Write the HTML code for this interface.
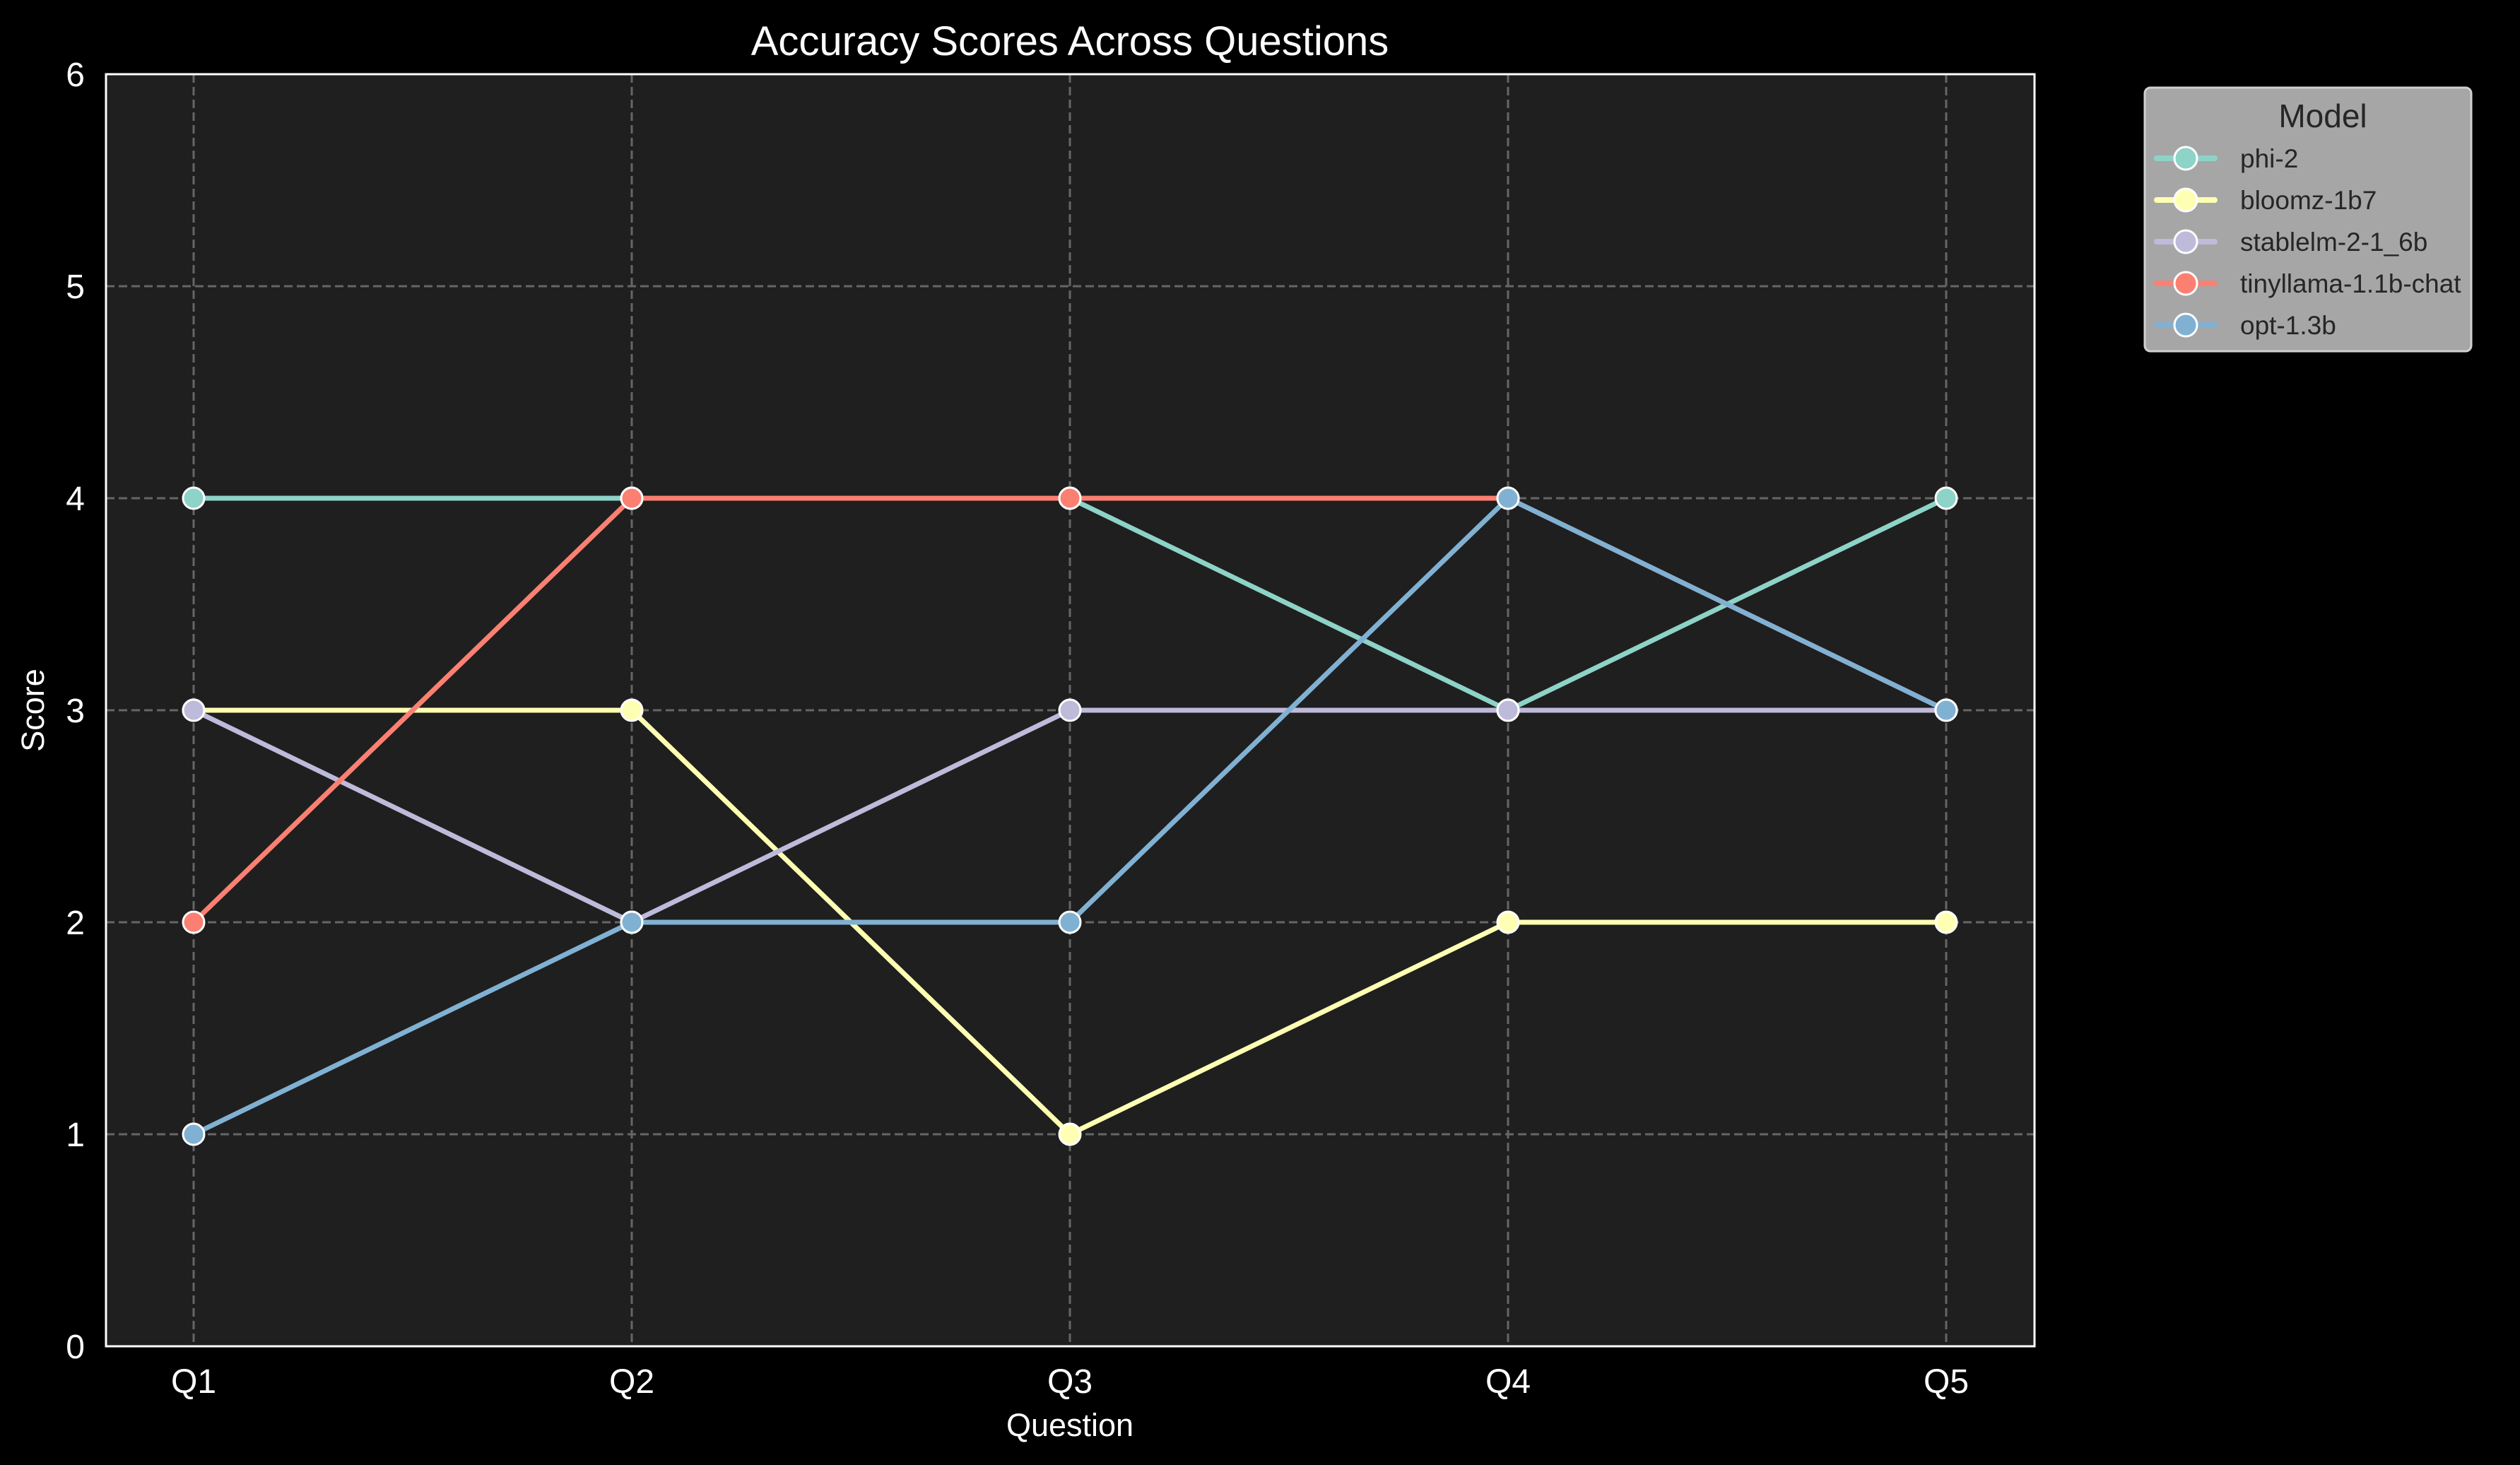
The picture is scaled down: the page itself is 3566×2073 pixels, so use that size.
<!DOCTYPE html>
<html><head><meta charset="utf-8"><style>
html,body{margin:0;padding:0;background:#000;}
svg{display:block;font-family:"Liberation Sans",sans-serif;}
</style></head><body>
<svg id="chart" width="3566" height="2073" viewBox="0 0 3566 2073">
<rect width="3566" height="2073" fill="#000"/>
<rect x="150" y="105" width="2729" height="1800" fill="#1f1f1f"/>
<g id="grid"></g>
<g id="series"></g>
<rect x="150" y="105" width="2729" height="1800" fill="none" stroke="#fff" stroke-width="3"/>
<g id="ticks"></g>
<text x="1514" y="78" font-size="58" fill="#fff" text-anchor="middle">Accuracy Scores Across Questions</text>
<text x="1514" y="2032" font-size="45" fill="#fff" text-anchor="middle">Question</text>
<text x="0" y="0" font-size="45" fill="#fff" text-anchor="middle" transform="translate(62,1005) rotate(-90)">Score</text>
<g id="legend">
<rect x="3035" y="124" width="462" height="373" rx="8" fill="#a6a6a6" stroke="#d0d0d0" stroke-width="3"/>
<text x="3287" y="180" font-size="46" fill="#262626" text-anchor="middle">Model</text>
</g>
</svg>
<script>
const categories = ["Q1","Q2","Q3","Q4","Q5"];
const seriesNames = ["phi-2","bloomz-1b7","stablelm-2-1_6b","tinyllama-1.1b-chat","opt-1.3b"];
const phi2 = [4,4,4,3,4];
const bloomz = [3,3,1,2,2];
const stablelm = [3,2,3,3,3];
const tinyllama = [2,4,4,4,3];
const opt = [1,2,2,4,3];
const yTicks = [0,1,2,3,4,5,6];
const colors = ["#8dd3c7","#ffffb3","#bebada","#fb8072","#80b1d3"];
const allSeries = [phi2,bloomz,stablelm,tinyllama,opt];
const NS = "http://www.w3.org/2000/svg";
const x = i => 274 + i*620;
const y = v => 1905 - v*300;
function mk(tag, attrs, parent){const e=document.createElementNS(NS,tag);for(const k in attrs)e.setAttribute(k,attrs[k]);parent.appendChild(e);return e;}
const grid=document.getElementById('grid'), ticks=document.getElementById('ticks'), ser=document.getElementById('series'), leg=document.getElementById('legend');
categories.forEach((c,i)=>{
  const l=mk('line',{x1:x(i),x2:x(i),y1:105,y2:1905,stroke:'#666',"stroke-width":3,"stroke-dasharray":"12 6"},grid);
  
  
  const t=mk('text',{x:x(i),y:1971,"font-size":48,fill:'#fff',"text-anchor":"middle"},ticks);
  t.textContent=c;
  
  
});
yTicks.forEach(v=>{
  if(v>0&&v<6){const l=mk('line',{x1:150,x2:2879,y1:y(v),y2:y(v),stroke:'#666',"stroke-width":3,"stroke-dasharray":"12 6"},grid);
  
  }
  const t=mk('text',{x:120,y:y(v)+17,"font-size":48,fill:'#fff',"text-anchor":"end"},ticks);
  t.textContent=v;
  
  
});
allSeries.forEach((d,s)=>{
  const g=mk('g',{},ser);
  
  
  const p=mk('polyline',{points:d.map((v,i)=>x(i)+','+y(v)).join(' '),fill:'none',stroke:colors[s],"stroke-width":7,"stroke-linejoin":"round","stroke-linecap":"round"},g);
  
  
  d.forEach((v,i)=>{
    const c=mk('circle',{cx:x(i),cy:y(v),r:15,fill:colors[s],stroke:'#fff',"stroke-width":3},g);
    
    
  });
  const ly=224+s*59;
  const e=mk('g',{},leg);
  
  
  mk('line',{x1:3052,x2:3134,y1:ly,y2:ly,stroke:colors[s],"stroke-width":8,"stroke-linecap":"round"},e);
  mk('circle',{cx:3093,cy:ly,r:16,fill:colors[s],stroke:'#fff',"stroke-width":3},e);
  const t=mk('text',{x:3170,y:ly+13,"font-size":37,fill:'#262626'},e);
  t.textContent=seriesNames[s];
});
</script>
</body></html>
